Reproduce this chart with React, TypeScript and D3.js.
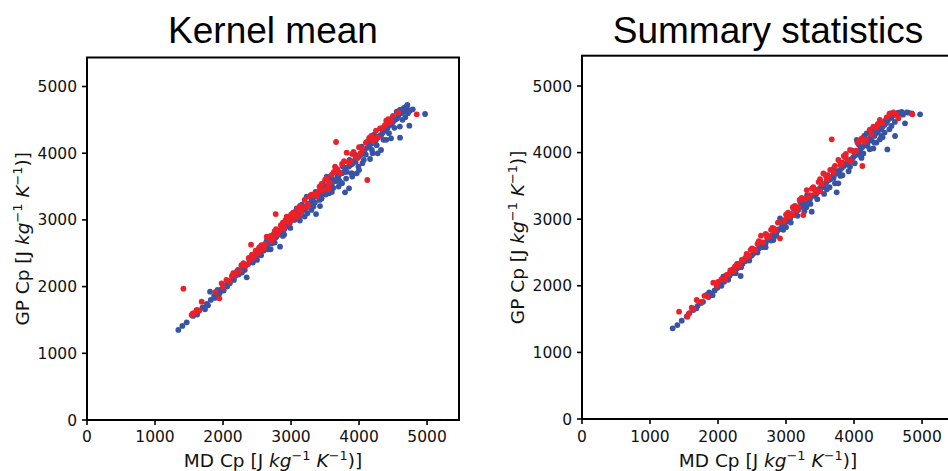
import React from "react";
import * as d3 from "d3";

// [MD Cp, GP Cp] pairs
const kernelBlue: [number, number][] = [
  [1343,1350],[1402,1410],[1466,1465],[1560,1560],[1600,1610],[1650,1640],[1700,1690],[1735,1660],[1760,1740],[1809,1924],
  [1820,1800],[1870,1860],[1900,1880],[1950,1900],[1980,1960],[2030,2010],[2060,2080],[2100,2050],[2140,2130],[2180,2160],
  [2200,2200],[2230,2180],[2260,2240],[2300,2270],[2348,2139],[2330,2320],[2370,2340],[2400,2380],[2420,2420],[2450,2410],
  [2480,2460],[2500,2470],[2520,2510],[2550,2520],[2580,2560],[2600,2540],[2620,2600],[2650,2610],[2680,2650],[2700,2680],
  [2720,2650],[2750,2720],[2780,2740],[2800,2770],[2838,2599],[2820,2800],[2850,2790],[2870,2850],[2900,2860],[2930,2900],
  [2950,2920],[2980,2950],[3000,2990],[3020,3010],[3050,3000],[3084,3174],[3080,3060],[3100,3080],[3120,3050],[3150,3120],
  [3180,3150],[3200,3200],[3230,3348],[3220,3180],[3250,3240],[3270,3230],[3300,3280],[3320,3300],[3350,3260],[3368,3088],
  [3380,3350],[3400,3380],[3426,3208],[3440,3420],[3460,3400],[3480,3480],[3500,3450],[3525,3648],[3520,3500],[3550,3520],
  [3580,3560],[3600,3540],[3620,3600],[3650,3580],[3680,3640],[3700,3660],[3720,3560],[3750,3700],[3780,3720],[3794,3414],
  [3800,3780],[3820,3720],[3853,3474],[3850,3800],[3870,3820],[3900,3840],[3920,3880],[3950,3870],[3966,3699],[3980,3940],
  [4000,3960],[4030,3980],[4050,4010],[4080,4040],[4100,3980],[4120,4080],[4150,4100],[4162,3913],[4180,4140],[4200,4160],
  [4230,4180],[4250,4200],[4274,3998],[4280,4240],[4300,4260],[4324,4048],[4330,4280],[4350,4310],[4380,4340],[4400,4360],
  [4420,4380],[4450,4420],[4471,4223],[4480,4440],[4500,4470],[4530,4500],[4554,4623],[4560,4520],[4580,4560],[4603,4233],
  [4620,4600],[4650,4620],[4680,4650],[4711,4723],[4740,4413],[4790,4658],[4971,4588],[4700,4700],[4750,4640],
  [3700,3500],[3750,3550],[3600,3420],[3900,3650],[4000,3750],[4050,3850],[3300,3150],[3200,3050],[2700,2560],[2500,2400],
  [2900,2780],[4200,4000],[4400,4200],[4600,4400],[1620,1580],[1780,1720],[2010,1940],[2280,2210],[3450,3320],[3560,3400],
  [1880,1830],[1920,1950],[2060,2000],[2160,2100],[2220,2250],[2320,2250],[2380,2420],[2440,2360],[2530,2580],[2560,2470],
  [2640,2680],[2660,2560],[2740,2780],[2760,2660],[2860,2900],[2880,2760],[2960,3020],[2990,2880],[3060,3120],[3130,2990],
  [3160,3230],[3240,3100],[3280,3360],[3330,3200],[3360,3420],[3420,3300],[3470,3540],[3510,3380],[3570,3640],[3620,3480],
  [3660,3720],[3710,3590],[3760,3800],[3810,3620],[3860,3900],[3890,3700],[3940,3980],[3990,3800],[4040,4100],[4070,3900],
  [4130,4180],[4190,4050],[4220,4280],[4260,4120],[4320,4370],[4360,4200],[4410,4450],[4440,4300],[4490,4530],[4520,4380],
  [4570,4620],[4640,4500],[4660,4680],[4720,4600],[4680,4540],[4600,4650],
];

const kernelRed: [number, number][] = [
  [1417,1969],[1539,1574],[1555,1600],[1585,1605],[1613,1649],[1645,1640],[1686,1774],[1946,1824],[1980,2049],[1890,1920],
  [2000,1990],[2050,2100],[2095,2080],[2150,2200],[2201,2224],[2245,2230],[2300,2350],[2350,2330],[2397,2399],[2412,2628],
  [2425,2480],[2455,2440],[2480,2540],[2520,2500],[2565,2620],[2600,2580],[2643,2748],[2680,2720],[2715,2680],[2760,2830],
  [2775,3088],[2800,2780],[2850,2920],[2900,2880],[2937,3048],[2970,2960],[3000,3080],[3050,3030],[3100,3170],[3150,3120],
  [3200,3300],[3250,3230],[3300,3380],[3328,3373],[3380,3360],[3420,3500],[3475,3448],[3500,3600],[3550,3520],[3600,3680],
  [3647,3798],[3662,4168],[3700,3720],[3750,3840],[3819,4008],[3850,3860],[3900,3990],[3950,3940],[4000,4090],[4050,4060],
  [4122,3598],[4150,4230],[4200,4180],[4250,4340],[4309,4373],[4350,4380],[4400,4490],[4450,4460],[4500,4560],[4578,4613],
  [4848,4583],[3400,3420],[3550,3460],[3100,3060],[2620,2640],[2880,2960],[3230,3200],[3680,3760],[3980,3930],[4280,4240],
  [2130,2160],[2180,2170],[2270,2320],[2330,2310],[2380,2430],[2470,2490],[2540,2590],[2580,2560],[2700,2760],[2740,2730],
  [2780,2860],[2830,2840],[2920,3000],[2990,2990],[3030,3110],[3080,3080],[3130,3210],[3180,3180],[3270,3350],[3360,3380],
  [3430,3460],[3520,3620],[3570,3560],[3630,3720],[3720,3700],[3780,3880],[3870,3870],[3920,4020],[4020,4000],[4100,4160],
  [4180,4260],[4230,4220],[4380,4420],[4430,4510],[4470,4480],[3450,3540],[3530,3470],
];

const summaryBlue: [number, number][] = [
  [1333,1362],[1402,1411],[1466,1476],[1540,1540],[1580,1590],[1637,1637],[1680,1660],[1700,1700],[1750,1740],[1780,1760],
  [1833,1862],[1860,1830],[1900,1880],[1950,1930],[1990,1970],[2030,2020],[2078,2137],[2090,2060],[2130,2110],[2170,2150],
  [2200,2190],[2240,2200],[2280,2260],[2333,2147],[2320,2300],[2360,2330],[2400,2370],[2440,2400],[2471,2437],[2500,2460],
  [2530,2490],[2560,2510],[2600,2560],[2630,2580],[2660,2620],[2700,2640],[2730,2690],[2760,2700],[2800,2760],[2814,2688],
  [2840,2800],[2870,2820],[2900,2850],[2912,3013],[2940,2890],[2970,2930],[3000,2960],[3030,2990],[3060,3010],[3090,3060],
  [3120,3070],[3150,3110],[3180,3140],[3200,3180],[3230,3190],[3260,3230],[3290,3250],[3320,3280],[3350,3300],[3378,3113],
  [3400,3350],[3430,3370],[3451,3388],[3480,3430],[3500,3470],[3530,3480],[3560,3520],[3590,3550],[3620,3580],[3650,3600],
  [3680,3640],[3700,3620],[3745,3403],[3730,3680],[3770,3538],[3760,3720],[3790,3730],[3820,3770],[3850,3800],[3880,3820],
  [3910,3860],[3941,3788],[3960,3900],[3990,3930],[4020,3960],[4040,4189],[4060,4000],[4090,4050],[4120,4080],[4137,3988],
  [4150,4110],[4180,4150],[4186,4289],[4210,4170],[4240,4220],[4260,4180],[4284,4063],[4300,4250],[4320,4290],[4350,4310],
  [4380,4200],[4400,4350],[4420,4390],[4450,4420],[4490,4048],[4480,4450],[4500,4490],[4529,4590],[4550,4520],[4580,4560],
  [4603,4249],[4620,4580],[4650,4600],[4700,4610],[4750,4439],[4775,4605],[4800,4600],[4850,4590],[4971,4575],[4400,4250],
  [4300,4150],[3600,3450],[3300,3180],[3000,2880],[2700,2580],[3800,3650],[4100,3950],[4200,4100],[4450,4300],[4550,4400],
  [1870,1900],[1920,1860],[2050,2000],[2110,2150],[2150,2090],[2220,2250],[2260,2190],[2300,2330],[2340,2280],[2420,2440],
  [2460,2380],[2520,2550],[2580,2500],[2620,2650],[2680,2580],[2720,2760],[2780,2680],[2820,2860],[2860,2750],[2920,2960],
  [2960,2840],[3020,3060],[3070,2950],[3110,3160],[3170,3050],[3210,3260],[3270,3120],[3310,3360],[3360,3230],[3410,3460],
  [3460,3300],[3510,3560],[3560,3380],[3610,3660],[3640,3480],[3700,3760],[3720,3540],[3800,3850],[3830,3660],[3870,3930],
  [3920,3720],[3970,4030],[4010,3840],[4070,4120],[4110,3920],[4160,4220],[4230,4050],[4270,4330],[4330,4150],[4360,4400],
  [4420,4230],[4460,4480],[4520,4350],[4560,4550],[4600,4460],[4680,4590],[4720,4570],[4250,4350],[4150,4250],
];

const summaryRed: [number, number][] = [
  [1427,1611],[1549,1536],[1570,1580],[1613,1671],[1640,1650],[1687,1787],[1750,1760],[1800,1850],[1850,1840],[1931,2047],
  [1980,2000],[2050,2100],[2100,2090],[2128,2162],[2180,2230],[2230,2220],[2280,2330],[2320,2310],[2372,2387],[2420,2480],
  [2460,2450],[2500,2560],[2550,2540],[2600,2670],[2632,2752],[2660,2650],[2700,2780],[2750,2740],[2800,2870],[2850,2840],
  [2912,2713],[2961,2963],[3000,3070],[3050,3040],[3100,3180],[3150,3130],[3200,3290],[3254,3063],[3280,3300],[3304,3438],
  [3350,3360],[3400,3480],[3450,3440],[3500,3600],[3549,3688],[3600,3600],[3650,3740],[3672,4199],[3700,3700],[3770,3889],
  [3800,3810],[3850,3950],[3900,3900],[3941,4039],[4000,4010],[4050,4150],[4113,4214],[4122,3799],[4180,4200],[4230,4340],
  [4284,4389],[4330,4380],[4380,4490],[4420,4440],[4480,4530],[4578,4605],[4652,4515],[4858,4575],[3500,3420],[3100,3060],
  [2400,2420],[2000,2060],[2150,2170],[2250,2290],[2300,2300],[2350,2390],[2440,2450],[2480,2540],[2530,2530],[2580,2630],
  [2720,2730],[2780,2840],[2830,2820],[2880,2950],[2980,2990],[3030,3100],[3080,3080],[3130,3200],[3180,3180],[3230,3320],
  [3330,3330],[3380,3460],[3430,3400],[3480,3560],[3530,3530],[3580,3660],[3630,3630],[3720,3800],[3830,3850],[3880,3980],
  [4030,4030],[4080,4180],[4150,4160],[4260,4270],[4350,4430],[4520,4580],[4620,4570],[3950,3870],
];

const xTicks = [0, 1000, 2000, 3000, 4000, 5000];
const yTicks = [0, 1000, 2000, 3000, 4000, 5000];
const titles = ["Kernel mean", "Summary statistics"];

const BLUE = "#3953a4";
const RED = "#ed2027";

function AxisLabel({ name }: { name: string }) {
  const sup = { fontSize: "0.7em" } as React.CSSProperties;
  return (
    <>
      {name} Cp [J{" "}
      <tspan fontStyle="italic">kg</tspan>
      <tspan dy={-7} style={sup}>−1</tspan>
      <tspan dy={7}> </tspan>
      <tspan fontStyle="italic">K</tspan>
      <tspan dy={-7} style={sup}>−1</tspan>
      <tspan dy={7}>)]</tspan>
    </>
  );
}

function Panel({ left, top, bottom, width, xMax, yMax, title, blue, red }: {
  left: number; top: number; bottom: number; width: number; xMax: number; yMax: number;
  title: string; blue: [number, number][]; red: [number, number][];
}) {
  const x = d3.scaleLinear().domain([0, xMax]).range([left, left + width]);
  const y = d3.scaleLinear().domain([0, yMax]).range([bottom, top]);
  const font = "DejaVu Sans, sans-serif";
  const cx = left + width / 2;
  return (
    <g>
      <text x={cx} y={43} textAnchor="middle" fontFamily="Liberation Sans, Arial, sans-serif" fontSize={37} fill="#000">{title}</text>
      {blue.map((d, i) => (
        <circle key={"b" + i} cx={x(d[0])} cy={y(d[1])} r={2.9} fill={BLUE} />
      ))}
      {red.map((d, i) => (
        <circle key={"r" + i} cx={x(d[0])} cy={y(d[1])} r={2.9} fill={RED} />
      ))}
      <rect x={left} y={top} width={width} height={bottom - top} fill="none" stroke="#000" strokeWidth={2} />
      {xTicks.map((t) => (
        <g key={"x" + t}>
          <line x1={x(t)} x2={x(t)} y1={bottom} y2={bottom + 5} stroke="#000" strokeWidth={1.6} />
          <text x={x(t)} y={441.5} textAnchor="middle" fontFamily={font} fontSize={15.5} fill="#111">{t}</text>
        </g>
      ))}
      {yTicks.map((t) => (
        <g key={"y" + t}>
          <line x1={left - 5} x2={left} y1={y(t)} y2={y(t)} stroke="#000" strokeWidth={1.6} />
          <text x={left - 10} y={y(t)} dy="0.36em" textAnchor="end" fontFamily={font} fontSize={15.5} fill="#111">{t}</text>
        </g>
      ))}
      <text x={cx} y={467} textAnchor="middle" fontFamily={font} fontSize={18.5} fill="#111">
        <AxisLabel name="MD" />
      </text>
      <text transform={`translate(${left - 58},${(top + bottom) / 2}) rotate(-90)`} textAnchor="middle" fontFamily={font} fontSize={18.5} fill="#111">
        <AxisLabel name="GP" />
      </text>
    </g>
  );
}

export default function App() {
  return (
    <svg width={948} height={471} style={{ position: "absolute", left: 0, top: 0, background: "#fff" }}>
      <rect width={948} height={471} fill="#fff" />
      <Panel left={87} top={57.5} bottom={420} width={372} xMax={5470} yMax={5435} title={titles[0]} blue={kernelBlue} red={kernelRed} />
      <Panel left={582} top={55.7} bottom={419} width={372} xMax={5470} yMax={5455} title={titles[1]} blue={summaryBlue} red={summaryRed} />
    </svg>
  );
}
